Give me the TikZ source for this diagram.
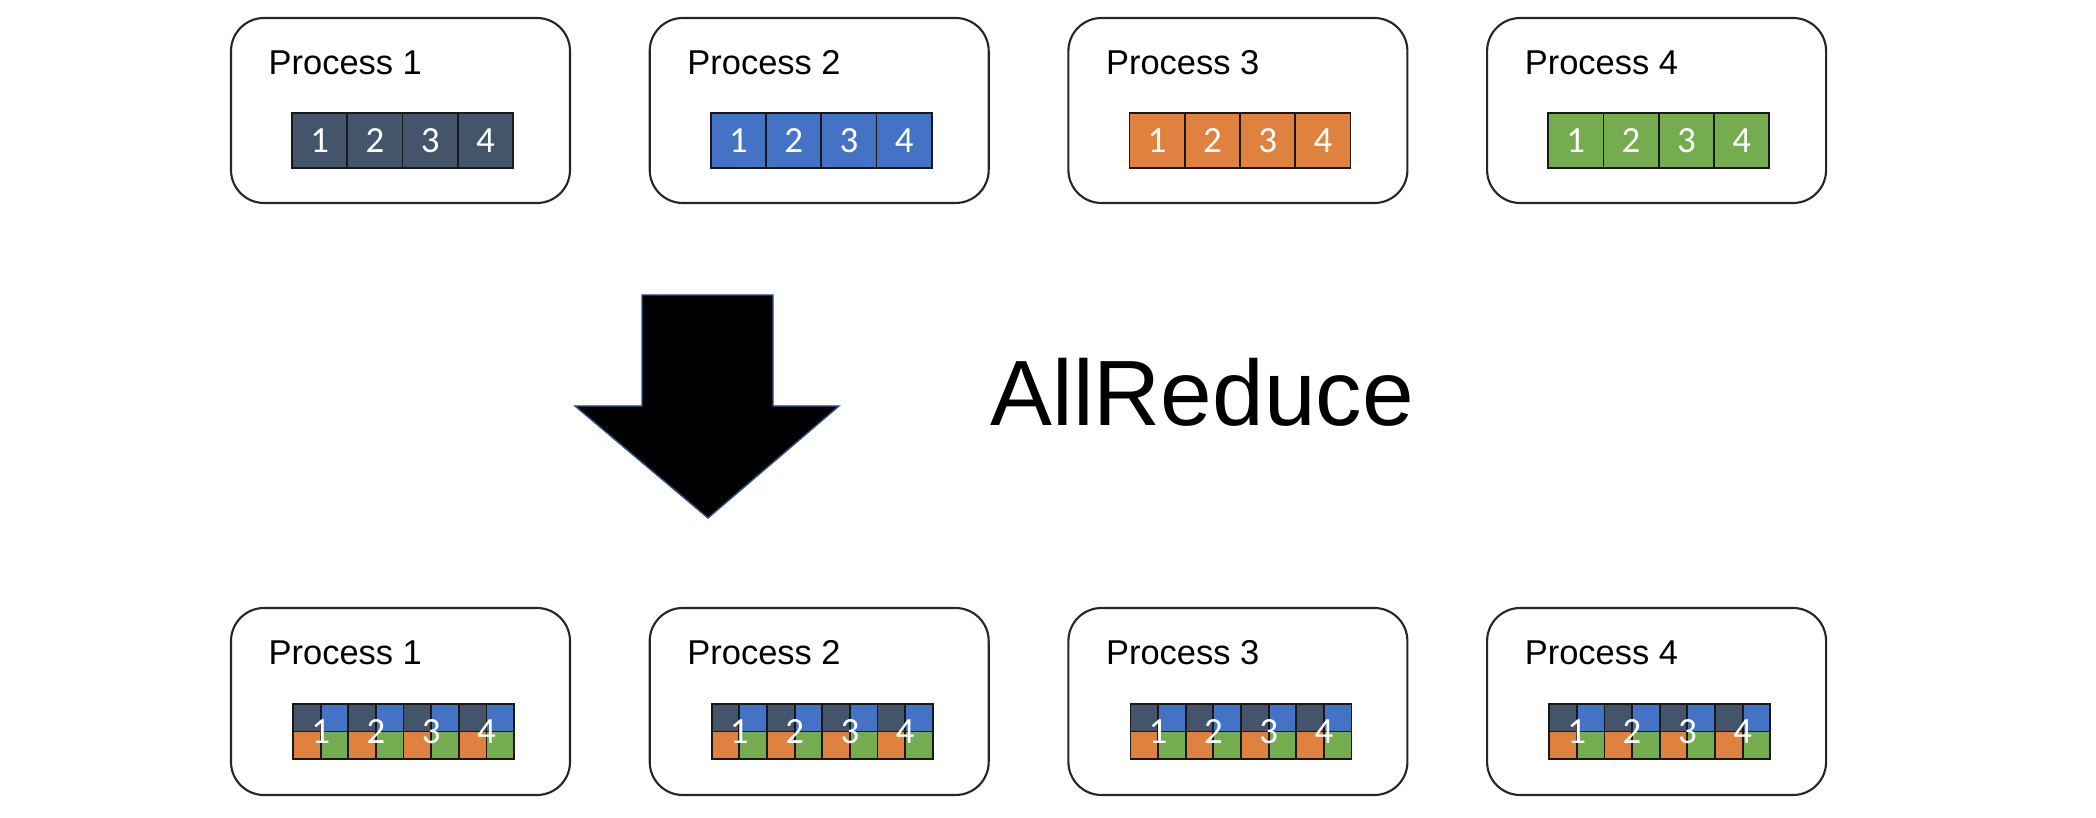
\documentclass[tikz,border=0pt]{standalone}
\usepackage{fontspec}
\setmainfont{Liberation Sans}
\newfontfamily\cellfont{Carlito}
\definecolor{slate}{HTML}{44546A}
\definecolor{procblue}{HTML}{4472C4}
\definecolor{procorange}{HTML}{E0823F}
\definecolor{procgreen}{HTML}{75AC4F}
\tikzset{
    procbox/.style={draw=black!85, line width=0.6pt, rounded corners=9.4pt},
    cell/.style={draw=black!90, line width=0.5pt},
    proclabel/.style={anchor=base west, inner sep=0pt, font=\fontsize{9.8}{12}\selectfont},
    cellnum/.style={text=white, inner sep=0pt, font=\cellfont\fontsize{10.5}{12}\selectfont}
}

\begin{document}
\begin{tikzpicture}[x=0.01cm,y=0.01cm]
\useasboundingbox (0,0) rectangle (2096,818);

\foreach \c [count=\i] in {slate,procblue,procorange,procgreen} {
    \pgfmathsetmacro{\bx}{231+418.7*(\i-1)}
    \draw[procbox] (\bx,615) rectangle ++(339,185);
    \node[proclabel] (top\i) at (\bx+37,743) {Process \i};
    \foreach \j in {1,...,4} {
        \pgfmathsetmacro{\cx}{\bx+61+55.3*(\j-1)}
        \filldraw[cell,fill=\c] (\cx,650) rectangle ++(55.3,55);
        \node[cellnum] (tc\i\j) at (\cx+27.65,677.5) {\j};
    }
    \draw[procbox] (\bx,23) rectangle ++(339,187);
    \node[proclabel] (bot\i) at (\bx+37,153) {Process \i};
    \foreach \j in {1,...,4} {
        \pgfmathsetmacro{\cx}{\bx+62+55.3*(\j-1)}
        \filldraw[cell,fill=slate] (\cx,86.5) rectangle ++(27.65,27.5);
        \filldraw[cell,fill=procblue] (\cx+27.65,86.5) rectangle ++(27.65,27.5);
        \filldraw[cell,fill=procorange] (\cx,59) rectangle ++(27.65,27.5);
        \filldraw[cell,fill=procgreen] (\cx+27.65,59) rectangle ++(27.65,27.5);
        \node[cellnum] (bc\i\j) at (\cx+27.65,86.5) {\j};
    }
}

\filldraw[fill=black, draw=procblue!70!black, line width=0.4pt] (642,523) -- (773,523) -- (773,412) -- (839,412) -- (708,300) -- (575,412) -- (642,412) -- cycle;

\node[anchor=base west, inner sep=0pt, font=\fontsize{26.4}{30}\selectfont] (allreduce) at (990,392) {AllReduce};
\end{tikzpicture}
\end{document}
